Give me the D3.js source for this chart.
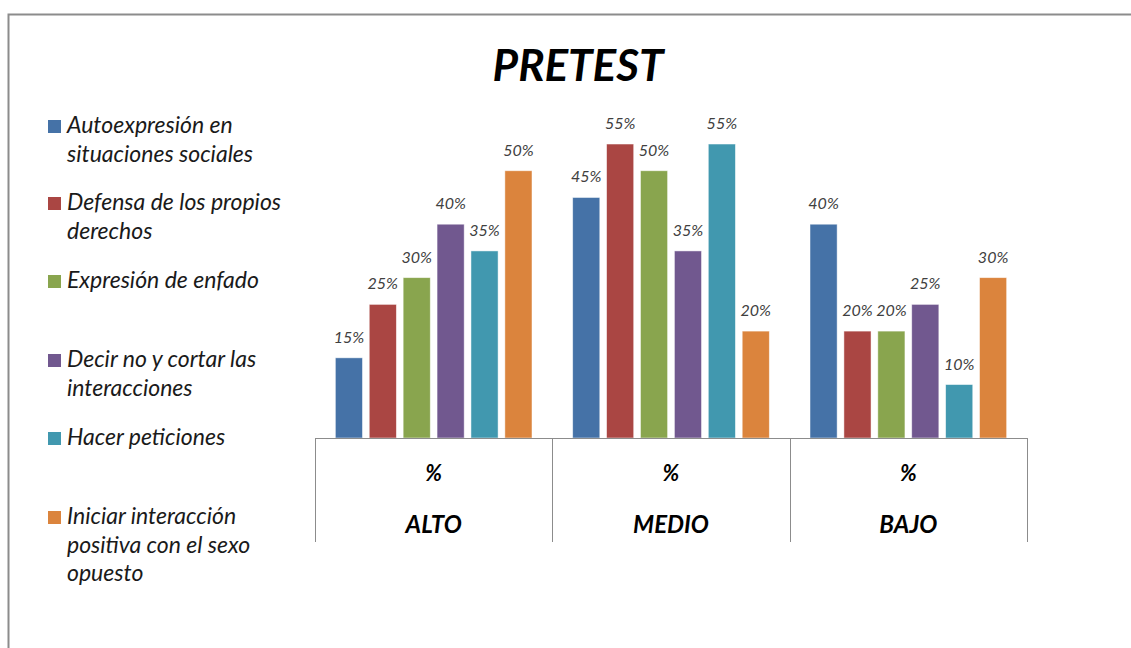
<!DOCTYPE html>
<html>
<head>
<meta charset="utf-8">
<script src="https://cdnjs.cloudflare.com/ajax/libs/d3/7.8.5/d3.min.js"></script>
<style>
  html, body { margin: 0; padding: 0; background: #fff; }
  svg { display: block; }
</style>
</head>
<body>
<script>
// Levels shown on the x axis, with the "%" row above them
const levels = ["ALTO", "MEDIO", "BAJO"];
const unitRow = ["%", "%", "%"];

// Social-skill dimensions (one bar per dimension in each level)
const series = [
  "Autoexpresión en situaciones sociales",
  "Defensa de los propios derechos",
  "Expresión de enfado",
  "Decir no y cortar las interacciones",
  "Hacer peticiones",
  "Iniciar interacción positiva con el sexo opuesto"
];

// Legend text broken into lines
const legendLines = [
  ["Autoexpresión en", "situaciones sociales"],
  ["Defensa de los propios", "derechos"],
  ["Expresión de enfado"],
  ["Decir no y cortar las", "interacciones"],
  ["Hacer peticiones"],
  ["Iniciar interacción", "positiva con el sexo", "opuesto"]
];

// Percentages per dimension, in the order ALTO, MEDIO, BAJO
const autoexpresion = [0.15, 0.45, 0.40];
const defensa       = [0.25, 0.55, 0.20];
const enfado        = [0.30, 0.50, 0.20];
const decirNo       = [0.40, 0.35, 0.25];
const peticiones    = [0.35, 0.55, 0.10];
const iniciar       = [0.50, 0.20, 0.30];
const values = [autoexpresion, defensa, enfado, decirNo, peticiones, iniciar];

const colors = ["#4572A7", "#AA4643", "#89A54E", "#71588F", "#4198AF", "#DB843D"];

const W = 1131, H = 648;
const font = "Lato, 'Liberation Sans', sans-serif";

const svg = d3.select("body").append("svg")
  .attr("width", W).attr("height", H);

// Outer frame (top and left edges visible)
svg.append("rect")
  .attr("x", 8.5).attr("y", 14.5)
  .attr("width", W + 10).attr("height", H + 10)
  .attr("fill", "#fff")
  .attr("stroke", "#8c8c8c").attr("stroke-width", 2);

// Title
svg.append("text")
  .attr("x", 578).attr("y", 81)
  .attr("text-anchor", "middle")
  .attr("font-family", font)
  .attr("font-size", 44).attr("font-weight", "bold").attr("font-style", "italic")
  .attr("fill", "#000")
  .text("PRETEST");

// Plot area
const x0 = d3.scaleBand().domain(levels).range([315, 1027]).paddingInner(0).paddingOuter(0);
const x1 = d3.scaleBand().domain(d3.range(series.length))
  .range([0, x0.bandwidth()]).paddingInner(0.2).paddingOuter(0.6);
const y = d3.scaleLinear().domain([0, 0.6]).range([438, 117.3]);

const rows = [];
levels.forEach((lv, i) => {
  values.forEach((arr, s) => rows.push({ level: lv, s, v: arr[i] }));
});

const g = svg.append("g");

g.selectAll("rect.bar").data(rows).enter().append("rect")
  .attr("class", "bar")
  .attr("x", d => x0(d.level) + x1(d.s))
  .attr("y", d => y(d.v))
  .attr("width", x1.bandwidth())
  .attr("height", d => y(0) - y(d.v))
  .attr("fill", d => colors[d.s])
  .attr("stroke", "#ffffff").attr("stroke-opacity", 0.6).attr("stroke-width", 0.8);

// Value labels above bars
g.selectAll("text.val").data(rows).enter().append("text")
  .attr("class", "val")
  .attr("x", d => x0(d.level) + x1(d.s) + x1.bandwidth() / 2)
  .attr("y", d => y(d.v) - 15)
  .attr("text-anchor", "middle")
  .attr("font-family", font)
  .attr("font-size", 16).attr("font-style", "italic")
  .attr("fill", "#404040")
  .text(d => d3.format(".0%")(d.v));

// Category axis: baseline, separators, and two label rows
const axis = svg.append("g").attr("transform", `translate(0,${y(0)})`);
axis.call(d3.axisBottom(x0).tickSize(0).tickFormat(""));
axis.select(".domain").attr("stroke", "#8c8c8c").attr("stroke-width", 1);

const seps = x0.domain().map(d => x0(d)).concat([x0.range()[1]]);
axis.selectAll("line.sep").data(seps).enter().append("line")
  .attr("class", "sep")
  .attr("x1", d => Math.round(d) + 0.5).attr("x2", d => Math.round(d) + 0.5)
  .attr("y1", 0).attr("y2", 104)
  .attr("stroke", "#8c8c8c").attr("stroke-width", 1);

axis.selectAll("text.unit").data(levels).enter().append("text")
  .attr("class", "unit")
  .attr("x", (d) => x0(d) + x0.bandwidth() / 2)
  .attr("y", 43)
  .attr("text-anchor", "middle")
  .attr("font-family", font).attr("font-size", 22)
  .attr("font-weight", "bold").attr("font-style", "italic")
  .attr("fill", "#000")
  .text((d, i) => unitRow[i]);

axis.selectAll("text.cat").data(levels).enter().append("text")
  .attr("class", "cat")
  .attr("x", d => x0(d) + x0.bandwidth() / 2)
  .attr("y", 95)
  .attr("text-anchor", "middle")
  .attr("font-family", font).attr("font-size", 24)
  .attr("font-weight", "bold").attr("font-style", "italic")
  .attr("fill", "#000")
  .text(d => d);

// Legend
const legendTop = [133, 210, 288, 367, 445, 524];
const legend = svg.append("g");
series.forEach((name, i) => {
  const item = legend.append("g");
  item.append("rect")
    .attr("x", 48).attr("y", legendTop[i] - 13)
    .attr("width", 13).attr("height", 13)
    .attr("fill", colors[i]);
  const t = item.append("text")
    .attr("font-family", font).attr("font-size", 23).attr("font-style", "italic")
    .attr("fill", "#1a1a1a");
  legendLines[i].forEach((line, k) => {
    t.append("tspan").attr("x", 67).attr("y", legendTop[i] + k * 28.5).text(line);
  });
});
</script>
</body>
</html>
